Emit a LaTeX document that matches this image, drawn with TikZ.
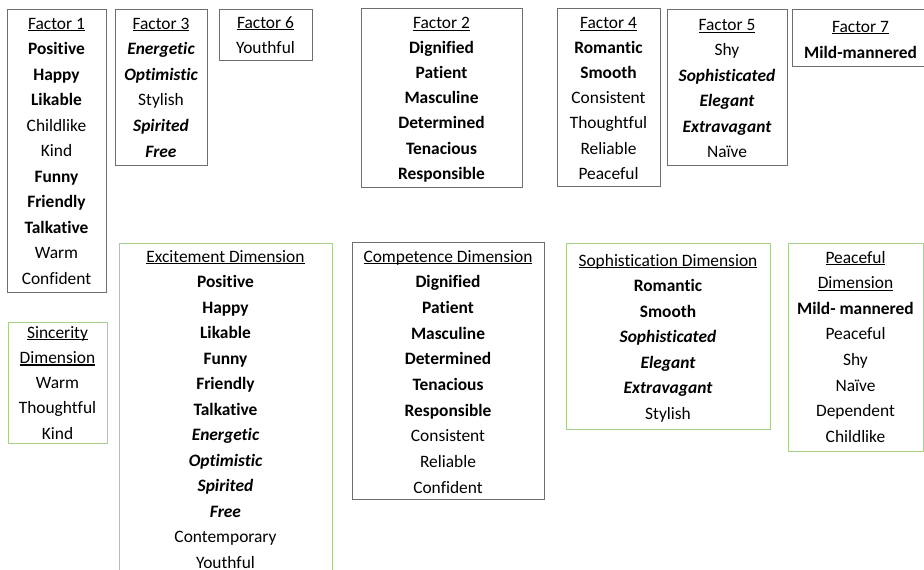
\documentclass[tikz,border=0pt]{standalone}
\usepackage{fontspec}
\setmainfont{Carlito}[Ligatures={NoCommon}]
\newcommand\ulw[1]{\leavevmode\setbox0\hbox{#1}\rlap{\rule[-2.4pt]{\wd0}{1.3pt}}\box0}
\newcommand\wordlist[5]{%
  \foreach \s/\t [count=\i from 0] in {#5} {%
    \node[t\s] (#1-\i) at (#2, {#3+\i*#4+6}) {\t};
  }}
\definecolor{boxgray}{RGB}{110,110,110}
\definecolor{boxgreen}{RGB}{168,207,140}
\tikzset{
  tr/.style={anchor=base, inner sep=0pt, text=black, font=\fontsize{17.4}{20}\selectfont},
  tb/.style={tr, font=\fontsize{17.4}{20}\selectfont\bfseries},
  ti/.style={tr, font=\fontsize{17.4}{20}\selectfont\bfseries\itshape},
  gbox/.style={draw=boxgray, line width=1.3pt, anchor=north west, inner sep=0pt},
  vbox/.style={draw=boxgreen, line width=1.3pt, anchor=north west, inner sep=0pt},
}
\begin{document}
\begin{tikzpicture}[x=1pt, y=-1pt]
\fill[white] (0,0) rectangle (924,570);
\useasboundingbox (0,0) rectangle (924,570);
% factor boxes
\node[gbox, minimum width=99pt, minimum height=283pt] (f1) at (7,9) {};
\node[gbox, minimum width=92pt, minimum height=156pt] (f3) at (115,9) {};
\node[gbox, minimum width=93pt, minimum height=51pt] (f6) at (219,9) {};
\node[gbox, minimum width=161pt, minimum height=179pt] (f2) at (361,8) {};
\node[gbox, minimum width=103pt, minimum height=178pt] (f4) at (557,8) {};
\node[gbox, minimum width=120pt, minimum height=156pt] (f5) at (667,9) {};
\node[gbox, minimum width=140pt, minimum height=57pt] (f7) at (792,9) {};
% dimension boxes
\node[vbox, minimum width=99pt, minimum height=121pt] (sin) at (8,322) {};
\node[vbox, minimum width=213pt, minimum height=340pt] (exc) at (119,243) {};
\node[gbox, minimum width=192pt, minimum height=257pt] (com) at (352,242) {};
\node[vbox, minimum width=204pt, minimum height=186pt] (sop) at (566,243) {};
\node[vbox, minimum width=135pt, minimum height=208pt] (pea) at (788,243) {};
% texts
\wordlist{f1t}{56.5}{23}{25.5}{r/\ulw{Factor 1}, b/Positive, b/Happy, b/Likable, r/Childlike, r/Kind, b/Funny, b/Friendly, b/Talkative, r/Warm, r/Confident}
\wordlist{f3t}{161}{23}{25.6}{r/\ulw{Factor 3}, i/Energetic, i/Optimistic, r/Stylish, i/Spirited, i/Free}
\wordlist{f6t}{265.5}{22}{25}{r/\ulw{Factor 6}, r/Youthful}
\wordlist{f2t}{441.5}{22.5}{25.1}{r/\ulw{Factor 2}, b/Dignified, b/Patient, b/Masculine, b/Determined, b/Tenacious, b/Responsible}
\wordlist{f4t}{608.5}{22.5}{25.1}{r/\ulw{Factor 4}, b/Romantic, b/Smooth, r/Consistent, r/Thoughtful, r/Reliable, r/Peaceful}
\wordlist{f5t}{727}{24.5}{25.4}{r/\ulw{Factor 5}, r/Shy, i/Sophisticated, i/Elegant, i/Extravagant, r/Naïve}
\wordlist{f7t}{860.5}{26}{26}{r/\ulw{Factor 7}, b/Mild-mannered}
\wordlist{sint}{57.5}{332}{25.3}{r/\ulw{Sincerity}, r/\ulw{Dimension}, r/Warm, r/Thoughtful, r/Kind}
\wordlist{exct}{225.5}{256}{25.5}{r/\ulw{Excitement Dimension}, b/Positive, b/Happy, b/Likable, b/Funny, b/Friendly, b/Talkative, i/Energetic, i/Optimistic, i/Spirited, i/Free, r/Contemporary, r/Youthful}
\wordlist{comt}{448}{256}{25.67}{r/\ulw{Competence Dimension}, b/Dignified, b/Patient, b/Masculine, b/Determined, b/Tenacious, b/Responsible, r/Consistent, r/Reliable, r/Confident}
\wordlist{sopt}{668}{260}{25.5}{r/\ulw{Sophistication Dimension}, b/Romantic, b/Smooth, i/Sophisticated, i/Elegant, i/Extravagant, r/Stylish}
\wordlist{peat}{855.5}{257}{25.6}{r/\ulw{Peaceful}, r/\ulw{Dimension}, b/Mild- mannered, r/Peaceful, r/Shy, r/Naïve, r/Dependent, r/Childlike}
\end{tikzpicture}
\end{document}
